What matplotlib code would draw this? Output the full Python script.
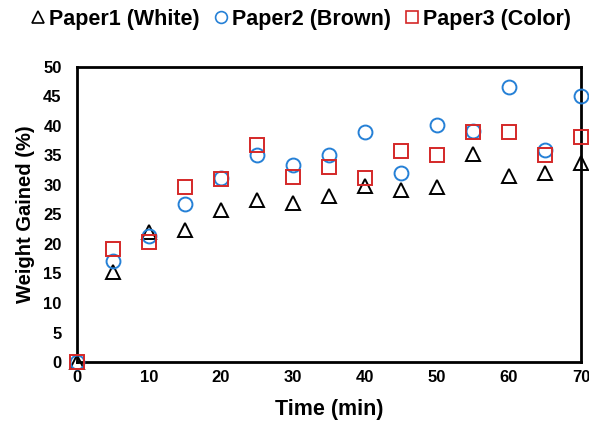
import matplotlib
matplotlib.use("Agg")
import matplotlib.pyplot as plt

time = [0, 5, 10, 15, 20, 25, 30, 35, 40, 45, 50, 55, 60, 65, 70]
paper1 = [0, 15.3, 22.1, 22.3, 25.8, 27.5, 27.0, 28.1, 29.8, 29.2, 29.6, 35.2, 31.5, 32.0, 33.7]
paper2 = [0, 17.1, 21.4, 26.8, 31.1, 35.1, 33.4, 35.1, 38.9, 32.1, 40.2, 39.2, 46.6, 36.0, 45.1]
paper3 = [0, 19.1, 20.4, 29.7, 31.0, 36.7, 31.3, 33.0, 31.1, 35.8, 35.0, 39.0, 38.9, 35.0, 38.1]
labels = ["Paper1 (White)", "Paper2 (Brown)", "Paper3 (Color)"]

plt.rcParams['font.family'] = ['Liberation Sans', 'DejaVu Sans']
plt.rcParams['font.weight'] = 'bold'

fig = plt.figure(figsize=(5.89, 4.28), dpi=100)
ax = fig.add_axes([0.1307, 0.1542, 0.8557, 0.6893])

ax.plot(time, paper1, linestyle='none', marker='^', markersize=10, markerfacecolor='none',
        markeredgecolor='black', markeredgewidth=1.4, label=labels[0], clip_on=False, zorder=3)
ax.plot(time, paper2, linestyle='none', marker='o', markersize=10, markerfacecolor='none',
        markeredgecolor='#2580d6', markeredgewidth=1.4, label=labels[1], clip_on=False, zorder=3)
ax.plot(time, paper3, linestyle='none', marker='s', markersize=10, markerfacecolor='none',
        markeredgecolor='#d42828', markeredgewidth=1.4, label=labels[2], clip_on=False, zorder=3)

ax.set_xlim(0, 70)
ax.set_ylim(0, 50)
ax.set_xticks(range(0, 71, 10))
ax.set_yticks(range(0, 51, 5))
ax.tick_params(length=0, labelsize=12)
ax.tick_params(axis='x', pad=6)
ax.tick_params(axis='y', pad=11)
for lab in ax.get_xticklabels() + ax.get_yticklabels():
    lab.set_fontweight('bold')
for s in ax.spines.values():
    s.set_linewidth(2)
    s.set_color('black')

ax.set_xlabel("Time (min)", fontsize=15.5, fontweight='bold', labelpad=10)
ax.set_ylabel("Weight Gained (%)", fontsize=14.5, fontweight='bold', labelpad=6)

leg = fig.legend(loc='upper center', bbox_to_anchor=(0.508, 1.025), ncol=3, frameon=False,
                 fontsize=15.5, handletextpad=0.0, columnspacing=0.5, handlelength=1.0,
                 markerscale=0.85)
for t in leg.get_texts():
    t.set_fontweight('bold')
for h in leg.legend_handles:
    h.set_markeredgewidth(1.2)

fig.savefig("out.png", dpi=100)
